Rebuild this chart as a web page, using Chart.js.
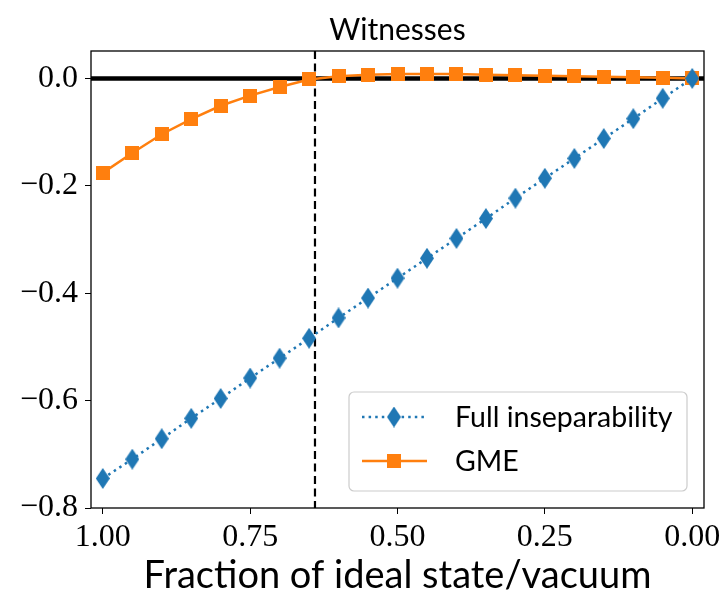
<!DOCTYPE html>
<html>
<head>
<meta charset="utf-8">
<script src="https://cdn.jsdelivr.net/npm/chart.js@4"></script>
<style>
  html, body { margin: 0; padding: 0; background: #fff; }
  #wrap { width: 726px; height: 601px; }
</style>
</head>
<body>
<div id="wrap"><canvas id="myChart" width="726" height="601"></canvas></div>
<script>
// fraction of ideal state (x), witness values for both series
const fractions = [1.00, 0.95, 0.90, 0.85, 0.80, 0.75, 0.70, 0.65, 0.60, 0.55, 0.50,
  0.45, 0.40, 0.35, 0.30, 0.25, 0.20, 0.15, 0.10, 0.05, 0.00];
const fullInsep = [-0.745, -0.709, -0.671, -0.633, -0.596, -0.558, -0.521, -0.484, -0.446, -0.409, -0.372,
  -0.335, -0.298, -0.261, -0.223, -0.186, -0.149, -0.112, -0.075, -0.037, 0.000];
const gme = [-0.176, -0.139, -0.104, -0.076, -0.051, -0.032, -0.016, -0.002, 0.004, 0.007, 0.008,
  0.008, 0.008, 0.007, 0.006, 0.005, 0.004, 0.003, 0.002, 0.001, 0.000];
const xTicks = [1.00, 0.75, 0.50, 0.25, 0.00];
const yTicks = [-0.8, -0.6, -0.4, -0.2, 0.0];
const threshold = 0.64; // dashed vertical line
const zeroLevel = 0;
const titleText = "Witnesses";

const blue = "#1f77b4";
const orange = "#ff7f0e";
const sansFont = "Lato";
const serifFont = "Liberation Serif";

function makeMarker(w, h, color, shape) {
  const c = document.createElement("canvas");
  c.width = w;
  c.height = h;
  const g = c.getContext("2d");
  g.fillStyle = color;
  if (shape == "diamond") {
    g.beginPath();
    g.moveTo(w / 2, 0);
    g.lineTo(w, h / 2);
    g.lineTo(w / 2, h);
    g.lineTo(0, h / 2);
    g.closePath();
    g.fill();
  } else {
    g.fillRect(0, 0, w, h);
  }
  return c;
}
const diamond = makeMarker(14, 21, blue, "diamond");
const square = makeMarker(14, 14, orange, "square");

function fmt(v, digits) {
  const s = Math.abs(v).toFixed(digits);
  return (v < -1e-9 ? "\u2212" : "") + s;
}

// reference lines, frame, title over the axes and a matplotlib-style legend
const extras = {
  id: "extras",
  beforeDatasetsDraw(chart) {
    const { ctx, chartArea: a, scales } = chart;
    ctx.save();
    const y0 = scales.y.getPixelForValue(zeroLevel);
    ctx.strokeStyle = "#000";
    ctx.lineWidth = 4.5;
    ctx.beginPath();
    ctx.moveTo(a.left, y0);
    ctx.lineTo(a.right, y0);
    ctx.stroke();
    const xt = scales.x.getPixelForValue(threshold);
    ctx.lineWidth = 2.2;
    ctx.setLineDash([8, 4.5]);
    ctx.beginPath();
    ctx.moveTo(xt, a.top);
    ctx.lineTo(xt, a.bottom);
    ctx.stroke();
    ctx.restore();
  },
  afterDraw(chart) {
    const { ctx, chartArea: a } = chart;
    ctx.save();
    ctx.strokeStyle = "#000";
    ctx.lineWidth = 1.3;
    ctx.strokeRect(a.left, a.top, a.right - a.left, a.bottom - a.top);

    // title centred on the plot area
    ctx.fillStyle = "#000";
    ctx.font = "30px " + sansFont;
    ctx.textAlign = "center";
    ctx.textBaseline = "alphabetic";
    ctx.fillText(titleText, (a.left + a.right) / 2, 40);

    // legend box
    const bx = 349, by = 392, bw = 338, bh = 99, r = 5;
    ctx.fillStyle = "rgba(255,255,255,0.8)";
    ctx.strokeStyle = "#cccccc";
    ctx.lineWidth = 1.2;
    ctx.beginPath();
    ctx.roundRect(bx, by, bw, bh, r);
    ctx.fill();
    ctx.stroke();
    const rows = [
      { label: "Full inseparability", color: blue, dash: [2.5, 4.1], marker: diamond, y: 417 },
      { label: "GME", color: orange, dash: [], marker: square, y: 461 },
    ];
    ctx.font = "28.5px " + sansFont;
    ctx.textAlign = "left";
    ctx.textBaseline = "middle";
    rows.forEach((row) => {
      ctx.strokeStyle = row.color;
      ctx.lineWidth = 2.5;
      ctx.setLineDash(row.dash);
      ctx.beginPath();
      ctx.moveTo(362, row.y);
      ctx.lineTo(427, row.y);
      ctx.stroke();
      ctx.setLineDash([]);
      ctx.drawImage(row.marker, 394 - row.marker.width / 2, row.y - row.marker.height / 2);
      ctx.fillStyle = "#000";
      ctx.fillText(row.label, 455, row.y + 1);
    });
    ctx.restore();
  },
};

const ctx = document.getElementById("myChart");
const myChart = new Chart(ctx, {
  type: "line",
  data: {
    datasets: [
      {
        label: "Full inseparability",
        data: fractions.map((x, i) => ({ x: x, y: fullInsep[i] })),
        borderColor: blue,
        backgroundColor: blue,
        borderWidth: 2.5,
        borderDash: [2.5, 4.1],
        pointStyle: diamond,
        pointRadius: 10,
      },
      {
        label: "GME",
        data: fractions.map((x, i) => ({ x: x, y: gme[i] })),
        borderColor: orange,
        backgroundColor: orange,
        borderWidth: 2.5,
        pointStyle: square,
        pointRadius: 10,
      },
    ],
  },
  options: {
    responsive: false,
    animation: false,
    layout: { padding: { left: 0, right: 22, top: 51, bottom: 0 } },
    plugins: {
      legend: { display: false },
      tooltip: { enabled: false },
      title: { display: false },
    },
    scales: {
      x: {
        type: "linear",
        reverse: true,
        min: -0.02,
        max: 1.02,
        afterBuildTicks: (scale) => { scale.ticks = xTicks.map((v) => ({ value: v })); },
        afterFit: (scale) => { scale.height = 93; },
        grid: { drawOnChartArea: false, drawTicks: true, tickLength: 6, color: "#000" },
        border: { display: false },
        ticks: {
          color: "#000",
          padding: 4,
          maxRotation: 0,
          font: { family: serifFont, size: 32 },
          callback: (v) => fmt(v, 2),
        },
        title: {
          display: true,
          text: "Fraction of ideal state/vacuum",
          color: "#000",
          font: { family: sansFont, size: 38 },
          padding: { top: 0, bottom: 2 },
        },
      },
      y: {
        min: -0.8,
        max: 0.051,
        afterBuildTicks: (scale) => { scale.ticks = yTicks.map((v) => ({ value: v })); },
        afterFit: (scale) => { scale.width = 91; },
        grid: { drawOnChartArea: false, drawTicks: true, tickLength: 6, color: "#000" },
        border: { display: false },
        ticks: {
          color: "#000",
          padding: 7,
          font: { family: serifFont, size: 32 },
          callback: (v) => fmt(v, 1),
        },
      },
    },
  },
  plugins: [extras],
});
</script>
</body>
</html>
